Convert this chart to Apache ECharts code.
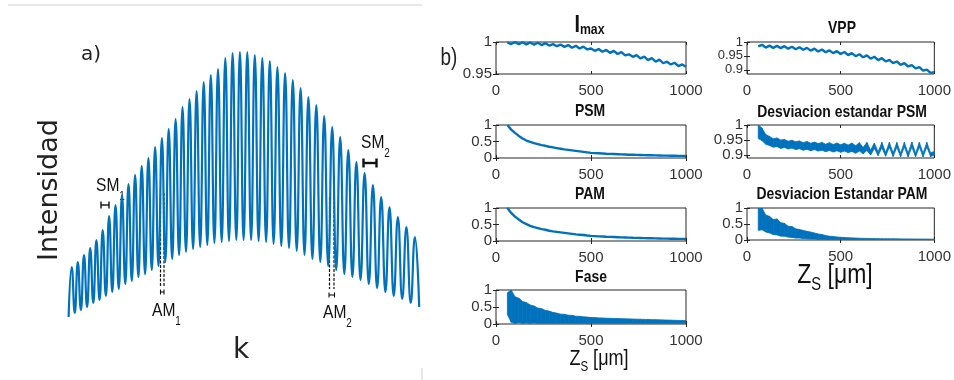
<!DOCTYPE html>
<html>
<head>
<meta charset="utf-8">
<script src="https://cdn.jsdelivr.net/npm/echarts@6.0.0/dist/echarts.min.js"></script>
<style>
html, body { margin: 0; padding: 0; background: #fff; }
#chart { width: 954px; height: 380px; }
</style>
</head>
<body>
<div id="chart"></div>
<script>
// a) franjas: maximos y minimos (k e intensidad en u.a.)
var peakK = [71.7, 77.8, 84.0, 90.2, 96.4, 102.7, 109.1, 115.5, 122.0, 128.5, 135.1, 141.7, 148.4, 155.1, 161.9, 168.7,
  175.6, 182.5, 189.5, 196.6, 203.7, 210.8, 218.0, 225.3, 232.6, 239.9, 247.3, 254.8, 262.3, 269.8, 277.4, 285.1,
  292.8, 300.6, 308.4, 316.3, 324.2, 332.2, 340.2, 348.3, 356.4, 364.6, 372.9, 381.2, 389.5, 397.9, 406.4, 414.9];
var peakI = [63, 68, 75, 82, 90, 100, 114, 125, 135, 146, 155, 164, 172, 183, 192, 201,
  211, 223, 231, 239, 248, 255, 261, 272, 277, 278, 278, 275, 272, 269, 263, 257,
  250, 242, 233, 225, 214, 203, 193, 180, 168, 157, 145, 133, 123, 113, 103, 93];
var troughK = [68.6, 74.8, 80.9, 87.1, 93.3, 99.6, 105.9, 112.3, 118.8, 125.3, 131.8, 138.4, 145.1, 151.8, 158.5, 165.3,
  172.2, 179.1, 186.0, 193.1, 200.2, 207.3, 214.4, 221.7, 229.0, 236.3, 243.6, 251.1, 258.6, 266.1, 273.6, 281.3,
  289.0, 296.7, 304.5, 312.4, 320.3, 328.2, 336.2, 344.3, 352.4, 360.5, 368.8, 377.1, 385.4, 393.7, 402.2, 410.7, 419.2];
var troughI = [13, 17, 20, 23, 27, 30, 34, 38, 41, 46, 49, 53, 56, 60, 64, 68,
  71, 75, 78, 81, 83, 85, 87, 88, 89, 90, 90, 90, 89, 88, 86, 84,
  82, 79, 75, 71, 68, 64, 60, 56, 53, 50, 46, 42, 38, 34, 31, 27, 23];

// b) Zs [um]
var zs = [60, 80, 100, 120, 140, 160, 180, 200, 220, 240, 260, 280, 300, 320, 340, 360,
  380, 400, 420, 440, 460, 480, 500, 520, 540, 560, 580, 600, 620, 640, 660, 680,
  700, 720, 740, 760, 780, 800, 820, 840, 860, 880, 900, 920, 940, 960, 980, 1000];
var imax = [0.9995, 0.9968, 0.9998, 0.9966, 0.9996, 0.9962, 0.9993, 0.9958, 0.9988, 0.9952, 0.9982, 0.9944, 0.9966, 0.9934, 0.9960, 0.9924,
  0.9952, 0.9910, 0.9940, 0.9898, 0.9928, 0.9884, 0.9898, 0.9862, 0.9890, 0.9848, 0.9876, 0.9830, 0.9862, 0.9812, 0.9842, 0.9790,
  0.9808, 0.9768, 0.9796, 0.9744, 0.9770, 0.9716, 0.9748, 0.9692, 0.9724, 0.9668, 0.9692, 0.9648, 0.9676, 0.9624, 0.9650, 0.9612];
var vpp = [0.984, 0.990, 0.980, 0.987, 0.979, 0.986, 0.978, 0.985, 0.976, 0.983, 0.974, 0.981, 0.972, 0.979, 0.969, 0.976,
  0.966, 0.973, 0.963, 0.970, 0.960, 0.967, 0.957, 0.964, 0.953, 0.960, 0.949, 0.956, 0.945, 0.952, 0.940, 0.947,
  0.935, 0.942, 0.930, 0.936, 0.924, 0.930, 0.918, 0.924, 0.912, 0.917, 0.905, 0.910, 0.897, 0.901, 0.889, 0.892];
var psm = [1.00, 0.86, 0.76, 0.67, 0.59, 0.53, 0.49, 0.45, 0.42, 0.39, 0.37, 0.34, 0.32, 0.30, 0.28, 0.26,
  0.245, 0.23, 0.215, 0.20, 0.185, 0.17, 0.155, 0.148, 0.142, 0.136, 0.13, 0.125, 0.12, 0.115, 0.11, 0.105,
  0.10, 0.097, 0.094, 0.091, 0.088, 0.085, 0.082, 0.079, 0.076, 0.073, 0.071, 0.069, 0.067, 0.065, 0.063, 0.061];
var pam = [1.00, 0.85, 0.74, 0.65, 0.57, 0.51, 0.46, 0.42, 0.39, 0.36, 0.34, 0.31, 0.29, 0.275, 0.26, 0.245,
  0.23, 0.215, 0.20, 0.19, 0.18, 0.165, 0.155, 0.148, 0.141, 0.135, 0.129, 0.124, 0.119, 0.114, 0.109, 0.105,
  0.101, 0.097, 0.094, 0.091, 0.088, 0.085, 0.082, 0.079, 0.076, 0.073, 0.071, 0.069, 0.067, 0.065, 0.063, 0.061];
var stdPsmLow = [0.955, 0.948, 0.936, 0.932, 0.926, 0.928, 0.922, 0.925, 0.920, 0.923, 0.918, 0.921, 0.916, 0.919, 0.914, 0.918,
  0.913, 0.916, 0.911, 0.915, 0.910, 0.914, 0.909, 0.913, 0.908, 0.912, 0.906, 0.913, 0.904, 0.915, 0.900, 0.922,
  0.898, 0.924, 0.896, 0.926, 0.895, 0.926, 0.894, 0.927, 0.894, 0.927, 0.894, 0.927, 0.894, 0.927, 0.895, 0.900];
var stdPsmHigh = [1.000, 0.990, 0.968, 0.962, 0.954, 0.957, 0.950, 0.952, 0.946, 0.949, 0.944, 0.947, 0.941, 0.945, 0.939, 0.943,
  0.938, 0.942, 0.936, 0.941, 0.935, 0.940, 0.934, 0.939, 0.933, 0.940, 0.931, 0.941, 0.925, 0.942, 0.916, 0.940,
  0.910, 0.942, 0.908, 0.942, 0.907, 0.942, 0.906, 0.942, 0.906, 0.943, 0.906, 0.942, 0.906, 0.942, 0.907, 0.912];
var stdPamLow = [0.30, 0.32, 0.25, 0.22, 0.17, 0.16, 0.12, 0.12, 0.09, 0.08, 0.06, 0.06, 0.045, 0.04, 0.03, 0.03,
  0.02, 0.02, 0.015, 0.015, 0.012, 0.012, 0.010, 0.010, 0.008, 0.008, 0.007, 0.007, 0.006, 0.006, 0.006, 0.006,
  0.005, 0.005, 0.005, 0.005, 0.005, 0.005, 0.005, 0.005, 0.004, 0.004, 0.004, 0.004, 0.004, 0.004, 0.004, 0.004];
var stdPamHigh = [1.00, 1.00, 0.78, 0.74, 0.64, 0.66, 0.54, 0.52, 0.43, 0.42, 0.35, 0.33, 0.30, 0.27, 0.25, 0.22,
  0.19, 0.17, 0.14, 0.12, 0.11, 0.095, 0.085, 0.078, 0.072, 0.066, 0.062, 0.056, 0.052, 0.049, 0.046, 0.044,
  0.042, 0.040, 0.039, 0.038, 0.037, 0.036, 0.035, 0.034, 0.033, 0.032, 0.031, 0.030, 0.029, 0.028, 0.027, 0.026];
var faseLow = [0.28, 0.05, 0.02, 0.04, 0.02, 0.03, 0.02, 0.03, 0.02, 0.02, 0.02, 0.02, 0.02, 0.02, 0.02, 0.02,
  0.02, 0.02, 0.02, 0.02, 0.02, 0.02, 0.02, 0.02, 0.02, 0.02, 0.02, 0.02, 0.02, 0.02, 0.02, 0.02,
  0.02, 0.02, 0.02, 0.02, 0.02, 0.02, 0.02, 0.02, 0.02, 0.02, 0.02, 0.02, 0.02, 0.02, 0.02, 0.02];
var faseHigh = [0.92, 1.00, 0.80, 0.76, 0.66, 0.63, 0.56, 0.53, 0.47, 0.45, 0.40, 0.38, 0.34, 0.32, 0.29, 0.285,
  0.26, 0.255, 0.23, 0.225, 0.21, 0.205, 0.19, 0.188, 0.18, 0.178, 0.17, 0.168, 0.16, 0.16, 0.155, 0.153,
  0.15, 0.146, 0.142, 0.14, 0.135, 0.134, 0.128, 0.127, 0.122, 0.12, 0.115, 0.114, 0.108, 0.106, 0.102, 0.10];

var BLUE = '#0072BD';
var INK = '#262626';
var SANS = '"Liberation Sans", Arial, sans-serif';
var PLAIN = '"DejaVu Sans", sans-serif';
var NARROW_X = 0.82; // estrechamiento horizontal del texto (tipo Arial Narrow)

function pairs(xs, ys) {
  return xs.map(function (x, i) { return [x, ys[i]]; });
}

// franjas: minimo, maximo, minimo, ...
var fringe = [];
for (var i = 0; i < troughK.length; i++) {
  fringe.push([troughK[i], troughI[i]]);
  if (i < peakK.length) fringe.push([peakK[i], peakI[i]]);
}

// subgraficas de b)
var panels = [
  { left: 496, top: 42, width: 190, height: 32, min: 0.95, max: 1, ticks: [0.95, 1], line: imax },
  { left: 496, top: 125, width: 190, height: 33, min: 0, max: 1, ticks: [0, 0.5, 1], line: psm },
  { left: 496, top: 208, width: 190, height: 33, min: 0, max: 1, ticks: [0, 0.5, 1], line: pam },
  { left: 496, top: 290, width: 190, height: 34, min: 0, max: 1, ticks: [0, 0.5, 1], lo: faseLow, hi: faseHigh },
  { left: 747, top: 42, width: 191, height: 32, min: 0.885, max: 1, ticks: [0.9, 0.95, 1], line: vpp, labelSize: 13 },
  { left: 747, top: 125, width: 191, height: 33, min: 0.89, max: 1, ticks: [0.9, 0.95, 1], lo: stdPsmLow, hi: stdPsmHigh },
  { left: 747, top: 208, width: 191, height: 32, min: 0, max: 1, ticks: [0, 0.5, 1], lo: stdPamLow, hi: stdPamHigh }
];

var grids = [{ left: 66, top: 52, width: 354, height: 278 }];
var xAxes = [{ gridIndex: 0, type: 'value', min: 66, max: 420, show: false }];
var yAxes = [{ gridIndex: 0, type: 'value', min: 0, max: 278, show: false }];
var series = [{
  type: 'line', xAxisIndex: 0, yAxisIndex: 0, data: fringe,
  smooth: 0.5, smoothMonotone: 'x', showSymbol: false, clip: false,
  lineStyle: { color: BLUE, width: 2.2 }
}];

var labelStyle = { color: '#333', fontFamily: SANS, fontSize: 15, hideOverlap: false };
var tickStyle = { inside: true, length: 3, lineStyle: { color: INK } };

// banda rellena entre minimo y maximo (senal muy oscilante)
function bandSeries(g, lo, hi) {
  return {
    type: 'custom', xAxisIndex: g, yAxisIndex: g, clip: true,
    data: zs.map(function (z, k) { return [z, lo[k], hi[k]]; }),
    encode: { x: 0, y: [1, 2] },
    renderItem: function (params, api) {
      var k = params.dataIndex;
      if (k >= zs.length - 1) return null;
      var pts = [
        api.coord([api.value(0), api.value(1)]),
        api.coord([api.value(0), api.value(2)]),
        api.coord([zs[k + 1], hi[k + 1]]),
        api.coord([zs[k + 1], lo[k + 1]])
      ];
      return { type: 'polygon', shape: { points: pts }, style: { fill: BLUE, stroke: BLUE, lineWidth: 0.8 } };
    }
  };
}

panels.forEach(function (p, n) {
  var g = n + 1;
  grids.push({ left: p.left, top: p.top, width: p.width, height: p.height, show: true, borderColor: INK, borderWidth: 1 });
  xAxes.push({
    gridIndex: g, type: 'value', min: 0, max: 1000, interval: 500,
    axisLine: { show: false }, splitLine: { show: false }, axisTick: tickStyle,
    axisLabel: Object.assign({ margin: 9, formatter: function (v) { return String(v); } }, labelStyle)
  });
  yAxes.push({
    gridIndex: g, type: 'value', min: p.min, max: p.max,
    axisLine: { show: false }, splitLine: { show: false },
    axisTick: Object.assign({ customValues: p.ticks }, tickStyle),
    axisLabel: Object.assign({}, labelStyle, {
      margin: 4, lineHeight: 9, customValues: p.ticks, showMinLabel: true, showMaxLabel: true,
      fontSize: p.labelSize || labelStyle.fontSize
    })
  });
  if (p.line) {
    series.push({
      type: 'line', xAxisIndex: g, yAxisIndex: g, data: pairs(zs, p.line),
      showSymbol: false, lineStyle: { color: BLUE, width: 2.4 }
    });
  } else {
    series.push(bandSeries(g, p.lo, p.hi));
  }
});
// marcas espejo arriba y a la derecha (estilo caja)
panels.forEach(function (p, n) {
  var g = n + 1;
  xAxes.push({ gridIndex: g, type: 'value', position: 'top', min: 0, max: 1000, interval: 500,
    axisLine: { show: false }, splitLine: { show: false }, axisLabel: { show: false }, axisTick: tickStyle });
  yAxes.push({ gridIndex: g, type: 'value', position: 'right', min: p.min, max: p.max,
    axisLine: { show: false }, splitLine: { show: false }, axisLabel: { show: false },
    axisTick: Object.assign({ customValues: p.ticks }, tickStyle) });
});

function text(x, y, str, size, extra) {
  extra = extra || {};
  return {
    type: 'text', x: x, y: y, rotation: extra.rotation || 0, scaleX: extra.scaleX || 1, silent: true,
    style: Object.assign({
      text: str, x: 0, y: 0, fill: '#1a1a1a', fontSize: size, fontFamily: SANS,
      textAlign: 'center', textVerticalAlign: 'middle'
    }, extra.style)
  };
}
function sub(x, y, main, s, size, subSize, pad, align, bold) {
  var w = bold ? 'bold' : 'normal';
  return {
    type: 'text', x: x, y: y, scaleX: NARROW_X, silent: true,
    style: {
      text: '{m|' + main + '}{s|' + s + '}', x: 0, y: 0, fill: '#111',
      textAlign: align || 'left', textVerticalAlign: 'bottom',
      rich: {
        m: { fontSize: size, fontFamily: SANS, fontWeight: w, verticalAlign: 'bottom', padding: [0, 0, pad, 0] },
        s: { fontSize: subSize, fontFamily: SANS, fontWeight: w, verticalAlign: 'bottom' }
      }
    }
  };
}
function seg(x1, y1, x2, y2, w, dash) {
  return { type: 'line', silent: true, shape: { x1: x1, y1: y1, x2: x2, y2: y2 },
    style: { stroke: '#111', lineWidth: w, lineDash: dash || null } };
}
function hbar(x1, x2, y, h, w) {
  return [seg(x1, y, x2, y, w), seg(x1, y - h, x1, y + h, w), seg(x2, y - h, x2, y + h, w)];
}
function title(x, y, str) {
  return text(x, y, str, 17, { scaleX: NARROW_X, style: { fontWeight: 'bold', fill: '#111' } });
}

var graphics = [
  { type: 'line', silent: true, shape: { x1: 8, y1: 5, x2: 422, y2: 5 }, style: { stroke: '#cfcfcf', lineWidth: 1 } },
  { type: 'line', silent: true, shape: { x1: 422, y1: 368, x2: 422, y2: 380 }, style: { stroke: '#cfcfcf', lineWidth: 1 } },
  text(91, 55, 'a)', 20, { style: { fontFamily: PLAIN, fill: '#222' } }),
  text(50, 190, 'Intensidad', 27, { rotation: Math.PI / 2, style: { fontFamily: PLAIN, fill: '#222' } }),
  text(241, 351, 'k', 28, { style: { fontFamily: PLAIN, fill: '#222' } }),
  sub(96, 202.7, 'SM', '1', 19, 12, 7),
  sub(361, 159.7, 'SM', '2', 19, 12, 7),
  sub(152, 327.7, 'AM', '1', 19, 12, 7),
  sub(323, 329.7, 'AM', '2', 19, 12, 7),
  seg(160.5, 193, 160.5, 286, 1.2, [3, 1.5]),
  seg(164, 193, 164, 286, 1.2, [3, 1.5]),
  seg(329.5, 197, 329.5, 289, 1.2, [3, 1.5]),
  seg(334, 197, 334, 289, 1.2, [3, 1.5]),
  text(449, 59, 'b)', 23, { scaleX: NARROW_X, style: { fill: '#222' } }),
  sub(589.5, 37.5, 'I', 'max', 24, 15, 0, 'center', true),
  title(842, 28, 'VPP'),
  title(590, 111, 'PSM'),
  title(842, 112.5, 'Desviacion estandar PSM'),
  title(590, 194, 'PAM'),
  title(842, 194, 'Desviacion Estandar PAM'),
  title(591, 277.5, 'Fase'),
  {
    type: 'text', x: 599, y: 374, scaleX: NARROW_X, silent: true,
    style: {
      text: '{z|Z}{s|S}{u| [μm]}', x: 0, y: 0, fill: '#111', textAlign: 'center', textVerticalAlign: 'bottom',
      rich: {
        z: { fontSize: 22, fontFamily: SANS, verticalAlign: 'bottom', padding: [0, 0, 4, 0] },
        s: { fontSize: 14, fontFamily: SANS, verticalAlign: 'bottom' },
        u: { fontSize: 22, fontFamily: SANS, verticalAlign: 'bottom', padding: [0, 0, 4, 0] }
      }
    }
  },
  {
    type: 'text', x: 835, y: 294, scaleX: NARROW_X, silent: true,
    style: {
      text: '{z|Z}{s|S}{u| [μm]}', x: 0, y: 0, fill: '#111', textAlign: 'center', textVerticalAlign: 'bottom',
      rich: {
        z: { fontSize: 28, fontFamily: SANS, verticalAlign: 'bottom', padding: [0, 0, 5, 0] },
        s: { fontSize: 18, fontFamily: SANS, verticalAlign: 'bottom' },
        u: { fontSize: 28, fontFamily: SANS, verticalAlign: 'bottom', padding: [0, 0, 5, 0] }
      }
    }
  }
];
graphics = graphics.concat(hbar(101, 109, 205, 3.5, 1.4), hbar(363.5, 376.5, 163, 4.5, 2.4),
  hbar(160.5, 164, 292, 2.5, 1.1), hbar(329, 334.5, 295, 2.5, 1.1));

var chart = echarts.init(document.getElementById('chart'));
chart.setOption({
  animation: false,
  backgroundColor: '#fff',
  grid: grids,
  xAxis: xAxes,
  yAxis: yAxes,
  series: series,
  graphic: { elements: graphics }
});
</script>
</body>
</html>
